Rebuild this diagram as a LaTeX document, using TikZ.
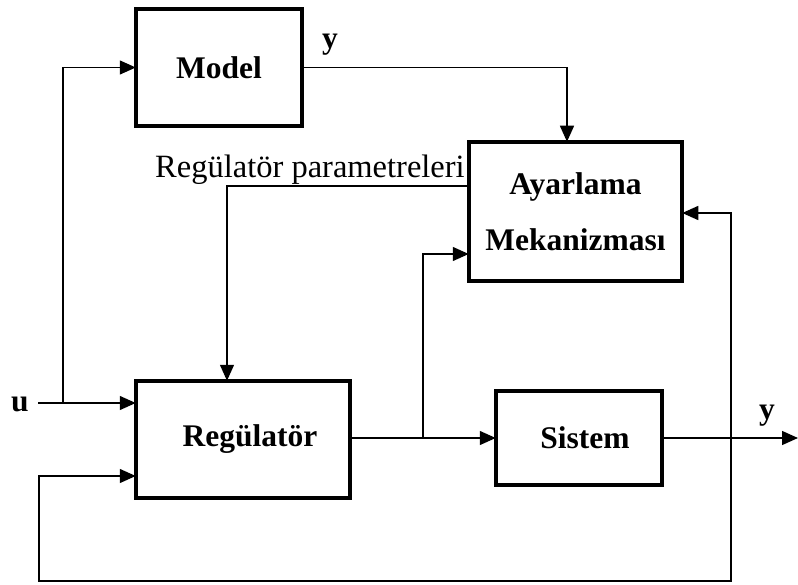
\documentclass[tikz,border=0pt]{standalone}
\usepackage{fontspec}
\setmainfont{Liberation Serif}
\usetikzlibrary{arrows.meta,calc}
\begin{document}
\begin{tikzpicture}[x=1pt,y=-1pt,
  blk/.style={draw,line width=3.8pt,inner sep=0pt,outer sep=0pt,
    font=\fontsize{31.5}{56}\selectfont\bfseries},
  conn/.style={line width=1.4pt,-{Triangle[length=16pt,width=14pt]}},
  lbl/.style={inner sep=0pt,font=\fontsize{31.5}{36}\selectfont\bfseries}]
\useasboundingbox (0,0) rectangle (798,585);
\node[blk,minimum width=166.5pt,minimum height=117.5pt] (model) at (219,67.5) {Model};
\node[blk,minimum width=213.5pt,minimum height=139.5pt,align=center] (ayar) at (575.5,211.5) {Ayarlama\\Mekanizması};
\node[blk,minimum width=214.5pt,minimum height=117.5pt] (reg) at (243,439.5) {\hspace*{14pt}Regülatör};
\node[blk,minimum width=166.5pt,minimum height=94.5pt] (sis) at (579,438) {\hspace*{12pt}Sistem};
% labels
\node[lbl,anchor=base] (ulbl) at (20,411) {u};
\node[lbl,anchor=base] (ytop) at (330,49) {y};
\node[lbl,anchor=base] (yout) at (767,419) {y};
\node[inner sep=0pt,anchor=base west,font=\fontsize{32.5}{36}\selectfont] (par) at (155,178) {Regülatör parametreleri};
% coordinates
\coordinate (uin) at (38,403);
\coordinate (ub) at (63,403);
\coordinate (mtop) at (567,67.5);
\coordinate (pl) at (227,186);
\coordinate (br) at (423,438);
\coordinate (out) at (798,438);
\coordinate (fb) at (731,438);
\coordinate (fbr) at (731,213);
\coordinate (fbl) at (39,581);
\coordinate (rin2) at (39,476);
\coordinate (ain) at (423,254);
% connectors
\draw[conn] (uin) -- (uin -| reg.west);
\draw[conn] (ub) |- (model.west);
\draw[conn] (model.east) -| (mtop |- ayar.north);
\draw[conn] (pl -| ayar.west) -| (pl |- reg.north);
\draw[conn] (reg.east |- br) -- (br -| sis.west);
\draw[conn] (br) |- (ain -| ayar.west);
\draw[conn] (sis.east |- out) -- (out);
\draw[conn] (fb) -- (fbr) -- (fbr -| ayar.east);
\draw[conn] (fb) |- (fbl) |- (rin2 -| reg.west);
\end{tikzpicture}
\end{document}
